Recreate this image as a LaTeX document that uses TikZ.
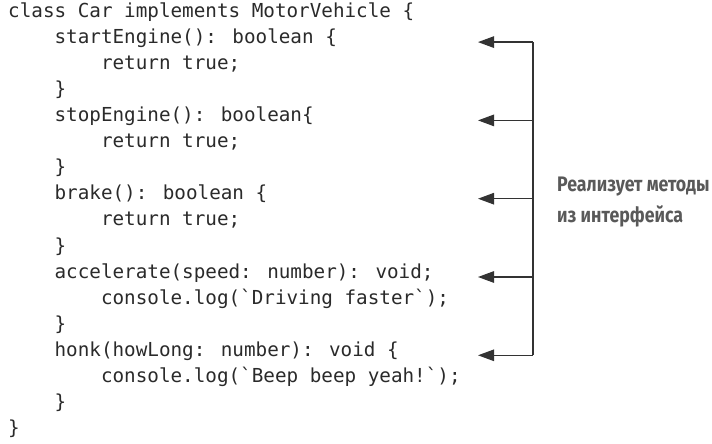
\documentclass[tikz,border=0pt]{standalone}
\usepackage{fontspec}
\usetikzlibrary{arrows.meta}
\newfontfamily\codefont{DejaVu Sans Mono}
\newfontfamily\labelfont[FakeStretch=0.845]{Fira Sans Bold}
\definecolor{codecol}{HTML}{2A2A2A}
\definecolor{linecol}{HTML}{333333}
\definecolor{labelcol}{HTML}{595959}
\begin{document}
\begin{tikzpicture}[x=1bp,y=-1bp,
  codeline/.style={anchor=mid west,inner sep=0pt,text=codecol,
    font=\codefont\fontsize{19.27bp}{26bp}\selectfont},
  pointer/.style={draw=linecol,line width=1.2bp,-{Triangle[length=16bp,width=11.5bp]}},
  spine/.style={draw=linecol,line width=1.2bp},
  note/.style={anchor=base west,inner sep=0pt,text=labelcol,align=left,
    font=\labelfont\fontsize{21bp}{31bp}\selectfont}]
\useasboundingbox (0,0) rectangle (712,444);
\def\cw{11.6}
\def\ly{26.1}
\node[codeline] (l0)  at (8,15+0*\ly) {class Car implements MotorVehicle \{};
\node[codeline] (l1)  at (8+4*\cw,15+1*\ly) {startEngine(): boolean \{};
\node[codeline] (l2)  at (8+8*\cw,15+2*\ly) {return true;};
\node[codeline] (l3)  at (8+4*\cw,15+3*\ly) {\}};
\node[codeline] (l4)  at (8+4*\cw,15+4*\ly) {stopEngine(): boolean\{};
\node[codeline] (l5)  at (8+8*\cw,15+5*\ly) {return true;};
\node[codeline] (l6)  at (8+4*\cw,15+6*\ly) {\}};
\node[codeline] (l7)  at (8+4*\cw,15+7*\ly) {brake(): boolean \{};
\node[codeline] (l8)  at (8+8*\cw,15+8*\ly) {return true;};
\node[codeline] (l9)  at (8+4*\cw,15+9*\ly) {\}};
\node[codeline] (l10) at (8+4*\cw,15+10*\ly) {accelerate(speed: number): void;};
\node[codeline] (l11) at (8+8*\cw,15+11*\ly) {console.log(\symbol{96}Driving faster\symbol{96});};
\node[codeline] (l12) at (8+4*\cw,15+12*\ly) {\}};
\node[codeline] (l13) at (8+4*\cw,15+13*\ly) {honk(howLong: number): void \{};
\node[codeline] (l14) at (8+8*\cw,15+14*\ly) {console.log(\symbol{96}Beep beep yeah!\symbol{96});};
\node[codeline] (l15) at (8+4*\cw,15+15*\ly) {\}};
\node[codeline] (l16) at (8,15+16*\ly) {\}};
% arrow tips and spine points
\foreach \i/\n in {1/1,2/4,3/7,4/10,5/13}{
  \coordinate (t\i) at (478,16+\n*\ly);
  \coordinate (s\i) at (533,16+\n*\ly);
}
\draw[spine] (s1) -- (s5);
\foreach \i in {1,...,5}{ \draw[pointer] (s\i) -- (t\i); }
\node[note] (lbl) at (557,223) {Реализует методы\\из интерфейса};
\end{tikzpicture}
\end{document}
